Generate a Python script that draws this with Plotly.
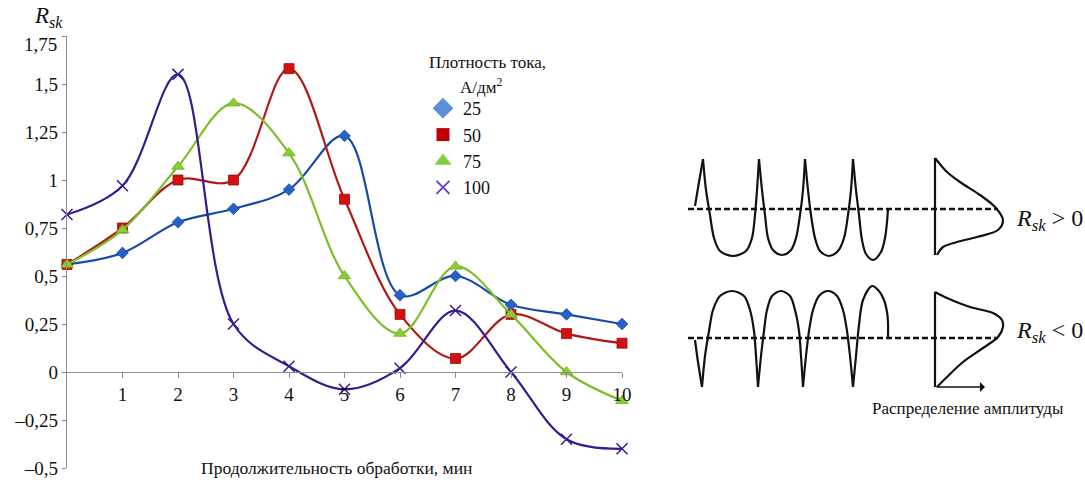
import plotly.graph_objects as go

# Treatment time, min
minutes = [0, 1, 2, 3, 4, 5, 6, 7, 8, 9, 10]

# Skewness R_sk for each current density, A/dm2
rsk_25 = [0.56, 0.62, 0.78, 0.85, 0.95, 1.23, 0.40, 0.50, 0.35, 0.30, 0.25]
rsk_50 = [0.56, 0.75, 1.00, 1.00, 1.58, 0.90, 0.30, 0.07, 0.30, 0.20, 0.15]
rsk_75 = [0.56, 0.74, 1.07, 1.40, 1.14, 0.50, 0.20, 0.55, 0.30, 0.00, -0.15]
rsk_100 = [0.82, 0.97, 1.55, 0.25, 0.03, -0.09, 0.02, 0.32, 0.00, -0.35, -0.40]

series_names = ["25", "50", "75", "100"]

y_ticks = [-0.5, -0.25, 0, 0.25, 0.5, 0.75, 1, 1.25, 1.5, 1.75]
y_tick_text = ["\u20130,5", "\u20130,25", "0", "0,25", "0,5", "0,75", "1", "1,25", "1,5", ""]
top_tick_text = "1,75"
x_ticks = [1, 2, 3, 4, 5, 6, 7, 8, 9, 10]

# Schematic profiles (diagram coordinates, y grows downward)
prof_pos_x = [695, 699, 703, None,
              703, 706, 710, 714, 720, 733, 746, 752, 755, 757, 759, None,
              759, 762, 765, 768, 773, 782, 791, 796, 800, 803, 805, None,
              805, 808, 811, 815, 820, 829, 838, 844, 848, 851, 853, None,
              853, 856, 859, 862, 866, 873, 881, 885, 887, 888]
prof_pos_y = [206, 182, 159, None,
              159, 190, 215, 238, 251, 256, 251, 238, 215, 190, 159, None,
              159, 190, 215, 238, 250, 255, 250, 238, 215, 190, 159, None,
              159, 190, 215, 238, 251, 256, 251, 238, 215, 190, 159, None,
              159, 190, 215, 240, 254, 260, 252, 238, 222, 209]

prof_neg_x = [695, 698, 702, None,
              702, 705, 709, 713, 720, 732, 744, 750, 754, 756, 758, None,
              758, 761, 764, 767, 772, 781, 790, 795, 799, 801, 803, None,
              803, 806, 809, 813, 819, 828, 837, 843, 847, 850, 853, None,
              853, 856, 859, 863, 872, 879, 884, 887, 888, 888]
prof_neg_y = [340, 362, 387, None,
              387, 356, 331, 310, 296, 291, 296, 310, 331, 356, 387, None,
              387, 356, 331, 310, 296, 291, 296, 310, 331, 356, 387, None,
              387, 356, 331, 310, 296, 291, 296, 310, 331, 356, 387, None,
              387, 356, 325, 300, 286, 291, 300, 312, 322, 337]

dist_pos_x = [935, 947, 960, 980, 995, 1003, 998, 977, 957, 943, 937]
dist_pos_y = [158, 172, 182, 195, 207, 220, 230, 237, 242, 247, 255]
dist_neg_x = [935, 947, 970, 993, 1002, 1003, 998, 983, 963, 947, 937]
dist_neg_y = [292, 298, 307, 313, 320, 327, 337, 348, 362, 377, 387]

axis_pos_x = [935, 935]
axis_pos_y = [158, 255]
axis_neg_x = [935, 935]
axis_neg_y = [292, 387]

mean_x = [688, 998]
mean_pos_y = [209, 209]
mean_neg_y = [338, 338]

SERIF = "Liberation Serif"
W, H = 1085, 484

# plot area of the main chart, in pixels
px_left, px_right = 67, 622
px_top, px_bottom = 36, 468
y_min, y_max = -0.5, 1.75

x_dom = [px_left / W, px_right / W]
y_dom = [(H - px_bottom) / H, (H - px_top) / H]
zero_pos = y_dom[0] + (0 - y_min) / (y_max - y_min) * (y_dom[1] - y_dom[0])

fig = go.Figure()

styles = [
    dict(line="#1a4aa8", marker="#2660c8", mline="#1a4aa8", symbol="diamond", size=9, legend="#5b8fd8"),
    dict(line="#b01818", marker="#d41010", mline="#9a0c0c", symbol="square", size=10, legend="#c00000"),
    dict(line="#7dbf2a", marker="#8acc33", mline="#72b022", symbol="triangle-up", size=11, legend="#80d040"),
    dict(line="#3a1a8c", marker="#3a1a8c", mline="#3a1a8c", symbol="x-thin-open", size=11, legend="#7040b8"),
]
series = [rsk_25, rsk_50, rsk_75, rsk_100]

for name, vals, st in zip(series_names, series, styles):
    fig.add_trace(go.Scatter(
        x=minutes, y=vals, mode="lines+markers", name=name, showlegend=False,
        line=dict(color=st["line"], width=2.2, shape="spline", smoothing=1.0),
        marker=dict(symbol=st["symbol"], size=st["size"], color=st["marker"],
                    line=dict(color=st["mline"], width=1.5 if "x" in st["symbol"] else 0.8)),
        cliponaxis=False, xaxis="x", yaxis="y",
    ))

# legend entries
for name, st in zip(series_names, styles):
    lsize = {"diamond": 16, "square": 13, "triangle-up": 15, "x-thin-open": 13}[st["symbol"]]
    fig.add_trace(go.Scatter(
        x=[None], y=[None], mode="markers", name=name, showlegend=True,
        marker=dict(symbol=st["symbol"], size=lsize, color=st["legend"],
                    line=dict(color=st["legend"], width=2 if "x" in st["symbol"] else 0)),
        xaxis="x", yaxis="y",
    ))

# schematic diagram
for xs, ys, shp in [(prof_pos_x, prof_pos_y, "spline"), (prof_neg_x, prof_neg_y, "spline"),
                    (dist_pos_x, dist_pos_y, "spline"), (dist_neg_x, dist_neg_y, "spline"),
                    (axis_pos_x, axis_pos_y, "linear"), (axis_neg_x, axis_neg_y, "linear")]:
    fig.add_trace(go.Scatter(x=xs, y=ys, mode="lines", showlegend=False, hoverinfo="skip",
                             line=dict(color="#111111", width=2.2, shape=shp, smoothing=0.9),
                             connectgaps=False, xaxis="x2", yaxis="y2"))
for ys in [mean_pos_y, mean_neg_y]:
    fig.add_trace(go.Scatter(x=mean_x, y=ys, mode="lines", showlegend=False, hoverinfo="skip",
                             line=dict(color="#111111", width=2.5, dash="6px,3px"),
                             xaxis="x2", yaxis="y2"))

annotations = [
    dict(text="<i>R</i><sub><i>sk</i></sub>", x=32 / W, y=1 - 17 / H, xref="paper", yref="paper",
         xanchor="left", yanchor="middle", showarrow=False, font=dict(family=SERIF, size=23, color="#111")),
    dict(text=top_tick_text, x=59 / W, y=1 - 44 / H, xref="paper", yref="paper",
         xanchor="right", yanchor="middle", showarrow=False, font=dict(family=SERIF, size=19, color="#111")),
    dict(text="Продолжительность обработки, мин", x=336 / W, y=1 - 468 / H, xref="paper", yref="paper",
         xanchor="center", yanchor="middle", showarrow=False, font=dict(family=SERIF, size=17.5, color="#111")),
    dict(text="Плотность тока,", x=427 / W, y=1 - 62 / H, xref="paper", yref="paper",
         xanchor="left", yanchor="middle", showarrow=False, font=dict(family=SERIF, size=17, color="#111")),
    dict(text="А/дм<sup>2</sup>", x=458 / W, y=1 - 86 / H, xref="paper", yref="paper",
         xanchor="left", yanchor="middle", showarrow=False, font=dict(family=SERIF, size=17, color="#111")),
    dict(text="<i>R</i><sub><i>sk</i></sub> > 0", x=1014, y=220, xref="x2", yref="y2",
         xanchor="left", yanchor="middle", showarrow=False, font=dict(family=SERIF, size=24, color="#111")),
    dict(text="<i>R</i><sub><i>sk</i></sub> < 0", x=1014, y=332, xref="x2", yref="y2",
         xanchor="left", yanchor="middle", showarrow=False, font=dict(family=SERIF, size=24, color="#111")),
    dict(text="Распределение амплитуды", x=968, y=408, xref="x2", yref="y2",
         xanchor="center", yanchor="middle", showarrow=False, font=dict(family=SERIF, size=17, color="#111")),
    dict(text="", x=985, y=387, ax=935, ay=387, xref="x2", yref="y2", axref="x2", ayref="y2",
         showarrow=True, arrowhead=1, arrowsize=1.2, arrowwidth=1.4, arrowcolor="#111"),
]

diag_left = 651
fig.update_layout(
    width=W, height=H, margin=dict(l=0, r=0, t=0, b=0),
    paper_bgcolor="white", plot_bgcolor="rgba(0,0,0,0)",
    font=dict(family=SERIF, color="#111"),
    showlegend=True,
    legend=dict(x=423 / W, y=1 - 90 / H, xanchor="left", yanchor="top",
                font=dict(family=SERIF, size=18, color="#111"), bgcolor="rgba(0,0,0,0)",
                itemwidth=30, tracegroupgap=0),
    xaxis=dict(domain=x_dom, range=[0, 10], anchor="free", position=zero_pos,
               tickvals=x_ticks, ticktext=[str(v) for v in x_ticks],
               showline=True, linecolor="#8c8c8c", linewidth=1.3,
               ticks="outside", ticklen=5, tickcolor="#8c8c8c",
               showgrid=False, zeroline=False, automargin=False,
               tickfont=dict(family=SERIF, size=19, color="#111")),
    yaxis=dict(domain=y_dom, range=[y_min, y_max], anchor="x",
               tickvals=y_ticks, ticktext=y_tick_text,
               showline=True, linecolor="#8c8c8c", linewidth=1.3,
               ticks="outside", ticklen=4, tickcolor="#8c8c8c",
               showgrid=False, zeroline=False, automargin=False,
               tickfont=dict(family=SERIF, size=19, color="#111")),
    xaxis2=dict(domain=[diag_left / W, 1], range=[diag_left, W], anchor="y2", visible=False),
    yaxis2=dict(domain=[0, 1], range=[H, 0], anchor="x2", visible=False),
    annotations=annotations,
)

fig.write_html("out.html")
